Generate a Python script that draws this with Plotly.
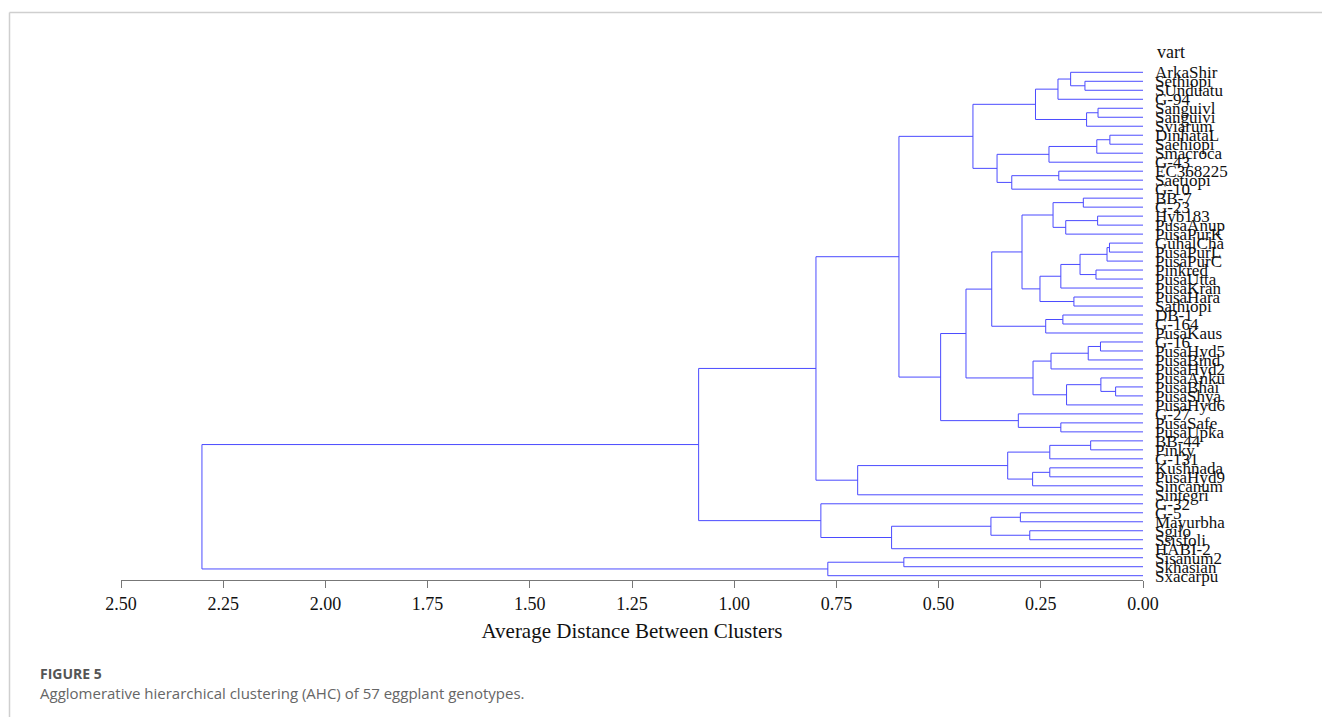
import plotly.graph_objects as go

# Leaf order (top to bottom)
labels = ["ArkaShir", "Sethiopi", "SUnduatu", "G-94", "Sanguivl", "Sanguivi", "Sviarum",
          "DinhataL", "Saehiopi", "Smacroca", "G-43", "EC368225", "Saetiopi", "G-10",
          "BB-7", "G-23", "Hyb183", "PusaAnup", "PusaPurK", "GuhalCha", "PusaPurL",
          "PusaPurC", "Pinkred", "PusaUtta", "PusaKran", "PusaHara", "Sathiopi", "DB-1",
          "G-164", "PusaKaus", "G-16", "PusaHyd5", "PusaBind", "PusaHyd2", "PusaAnku",
          "PusaBhai", "PusaShya", "PusaHyd6", "G-27", "PusaSafe", "PusaUpka", "BB-44",
          "Pinky", "G-131", "Kushnada", "PusaHyd9", "Sincanum", "Sintegri", "G-32", "G-5",
          "Mayurbha", "Sgilo", "Ssisfoli", "HABI-2", "Sisanum2", "Skhasian", "Sxacarpu"]

# Merge table: (child A, child B, distance); int = earlier merge index
merge_left = ["Sethiopi", "ArkaShir", 1, "Sanguivl", 3, 2, "DinhataL", 6, 7, "EC368225", 9, 8, 5,
              "BB-7", "Hyb183", 14, 13, "GuhalCha", 17, "Pinkred", 18, 20, "PusaHara", 21, 16,
              "DB-1", 25, 24, "G-16", 28, 29, "PusaBhai", "PusaAnku", 32, 30, 27, "PusaSafe",
              "G-27", 35, 12, "BB-44", 40, "Kushnada", 42, 41, 44, 39, "G-5", "Sgilo", 47, 49,
              "G-32", 46, "Sisanum2", 53, 52]
merge_right = ["SUnduatu", 0, "G-94", "Sanguivi", "Sviarum", 4, "Saehiopi", "Smacroca", "G-43",
               "Saetiopi", "G-10", 10, 11, "G-23", "PusaAnup", "PusaPurK", 15, "PusaPurL",
               "PusaPurC", "PusaUtta", 19, "PusaKran", "Sathiopi", 22, 23, "G-164", "PusaKaus",
               26, "PusaHyd5", "PusaBind", "PusaHyd2", "PusaShya", 31, "PusaHyd6", 33, 34,
               "PusaUpka", 36, 37, 38, "Pinky", "G-131", "PusaHyd9", "Sincanum", 43, "Sintegri",
               45, "Mayurbha", "Ssisfoli", 48, "HABI-2", 50, 51, "Skhasian", "Sxacarpu", 54]
merge_dist = [0.142, 0.177, 0.208, 0.110, 0.138, 0.263, 0.081, 0.113, 0.230, 0.206, 0.321,
              0.357, 0.416, 0.146, 0.111, 0.189, 0.220, 0.082, 0.088, 0.115, 0.154, 0.201,
              0.169, 0.252, 0.296, 0.196, 0.238, 0.370, 0.104, 0.134, 0.225, 0.067, 0.103,
              0.187, 0.269, 0.433, 0.201, 0.305, 0.495, 0.597, 0.128, 0.228, 0.228, 0.270,
              0.331, 0.698, 0.800, 0.300, 0.277, 0.372, 0.615, 0.788, 1.087, 0.585, 0.771,
              2.302]

x_ticks = [2.50, 2.25, 2.00, 1.75, 1.50, 1.25, 1.00, 0.75, 0.50, 0.25, 0.00]

leaf_pos = {name: i for i, name in enumerate(labels)}
node_pos = []

def pos(c):
    if isinstance(c, int):
        return node_pos[c]
    return (0.0, leaf_pos[c])

xs, ys = [], []
for a, b, h in zip(merge_left, merge_right, merge_dist):
    xa, ya = pos(a)
    xb, yb = pos(b)
    xs += [xa, h, h, xb, None]
    ys += [ya, ya, yb, yb, None]
    node_pos.append((h, (ya + yb) / 2))

fig = go.Figure()
fig.add_trace(go.Scatter(x=xs, y=ys, mode="lines",
                         line=dict(color="#4b4bff", width=1),
                         hoverinfo="skip", showlegend=False))

ML, MR, MT, MB = 121, 179, 40, 137
W, H = 1322, 717
PW, PH = W - ML - MR, H - MT - MB

def px_x(p):
    return (p - ML) / PW

def px_y(p):
    return (H - MB - p) / PH

serif = "Liberation Serif"
sans = "Open Sans"

fig.update_layout(
    width=W, height=H, autosize=False,
    margin=dict(l=ML, r=MR, t=MT, b=MB),
    paper_bgcolor="white", plot_bgcolor="white",
    font=dict(family=serif, color="#111"),
    xaxis=dict(range=[2.5, 0], tickvals=x_ticks, tickformat=".2f",
               ticks="outside", ticklen=7, tickcolor="#777", tickwidth=1,
               showline=True, linecolor="#777", linewidth=1,
               showgrid=False, zeroline=False,
               tickfont=dict(family=serif, size=18, color="#111"),
               title=dict(text="Average Distance Between Clusters",
                          font=dict(family=serif, size=21, color="#111"),
                          standoff=10)),
    yaxis=dict(range=[56.478, -3.593], tickvals=list(range(len(labels))),
               ticktext=labels, side="right", ticks="", showline=False,
               showgrid=False, zeroline=False, ticklabelstandoff=11,
               tickfont=dict(family=serif, size=17, color="#111")),
    annotations=[
        dict(text="vart", xref="paper", yref="paper", x=px_x(1155), y=px_y(52),
             xanchor="left", yanchor="middle", showarrow=False,
             font=dict(family=serif, size=18, color="#111")),
        dict(text="<b>FIGURE 5</b>", xref="paper", yref="paper", x=px_x(38), y=px_y(673),
             xanchor="left", yanchor="middle", showarrow=False,
             font=dict(family=sans, size=14, color="#555")),
        dict(text="Agglomerative hierarchical clustering (AHC) of 57 eggplant genotypes.",
             xref="paper", yref="paper", x=px_x(38), y=px_y(693),
             xanchor="left", yanchor="middle", showarrow=False,
             font=dict(family=sans, size=15, color="#666")),
    ],
    shapes=[
        dict(type="line", xref="paper", yref="paper", x0=px_x(9.5), x1=px_x(1322),
             y0=px_y(12.5), y1=px_y(12.5), line=dict(color="#cfcfcf", width=1.5)),
        dict(type="line", xref="paper", yref="paper", x0=px_x(9.5), x1=px_x(9.5),
             y0=px_y(12.5), y1=px_y(717), line=dict(color="#cfcfcf", width=1.5)),
    ],
)

fig.write_html("out.html")
